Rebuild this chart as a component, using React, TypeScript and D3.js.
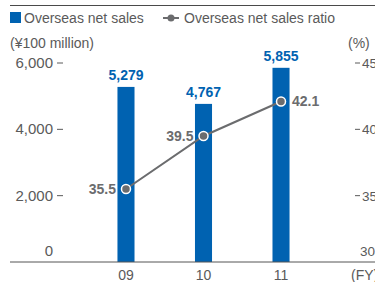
import React from 'react';
import * as d3 from 'd3';

const years = ['09', '10', '11'];
const salesValues = [5279, 4767, 5855];
const ratioValues = [35.5, 39.5, 42.1];
const leftTicks = [0, 2000, 4000, 6000];
const rightTicks = [30, 35, 40, 45];

const BLUE = '#0062b1';
const GRAY = '#6b6c6e';
const TEXT = '#5a5a5a';
const FONT = '"Liberation Sans", Arial, Helvetica, sans-serif';

export default function App() {
  const width = 375,
    height = 282;
  const top = 63,
    bottom = 262;

  const x = d3.scaleBand().domain(years).range([57, 350]).padding(0.78);
  const yL = d3.scaleLinear().domain([0, 6000]).range([bottom, top]);
  const yR = d3.scaleLinear().domain([30, 45]).range([bottom, top]);
  const cx = (d: string) => (x(d) as number) + x.bandwidth() / 2;

  const line = d3
    .line<number>()
    .x((_, i) => cx(years[i]))
    .y(d => yR(d));

  return (
    <svg
      width={width}
      height={height}
      style={{ position: 'absolute', left: 0, top: 0, fontFamily: FONT }}
    >
      <line x1={10} x2={375} y1={5.5} y2={5.5} stroke="#4a4a4a" strokeWidth={1.2} />

      {/* legend */}
      <rect x={10} y={12} width={11} height={11} fill={BLUE} />
      <text x={24} y={23} fontSize={14} fill={TEXT}>
        Overseas net sales
      </text>
      <line x1={163} x2={179} y1={18} y2={18} stroke={GRAY} strokeWidth={2} />
      <circle cx={171} cy={18} r={3.5} fill={GRAY} />
      <text x={184} y={23} fontSize={14} fill={TEXT}>
        Overseas net sales ratio
      </text>

      <text x={10} y={48} fontSize={14} fill={TEXT}>
        (¥100 million)
      </text>
      <text x={348} y={48} fontSize={14} fill={TEXT}>
        (%)
      </text>

      {/* left axis */}
      {leftTicks.map(t => (
        <g key={t}>
          {t > 0 && (
            <line x1={57} x2={63} y1={yL(t)} y2={yL(t)} stroke={TEXT} strokeWidth={1} />
          )}
          <text
            x={53}
            y={t > 0 ? yL(t) + 5 : yL(t) - 6}
            fontSize={15}
            fill={TEXT}
            textAnchor="end"
          >
            {d3.format(',')(t)}
          </text>
        </g>
      ))}

      {/* right axis */}
      {rightTicks.map(t => (
        <g key={t}>
          {t > 30 && (
            <line x1={355} x2={360} y1={yR(t)} y2={yR(t)} stroke={TEXT} strokeWidth={1} />
          )}
          <text
            x={t > 30 ? 362 : 360}
            y={t > 30 ? yR(t) + 5 : yR(t) - 6}
            fontSize={13.5}
            fill={TEXT}
          >
            {t}
          </text>
        </g>
      ))}

      {/* bars */}
      {years.map((yr, i) => (
        <g key={yr}>
          <rect
            x={x(yr)}
            y={yL(salesValues[i])}
            width={x.bandwidth()}
            height={bottom - yL(salesValues[i])}
            fill={BLUE}
          />
          <text
            x={cx(yr)}
            y={yL(salesValues[i]) - 7}
            fontSize={14}
            fontWeight="bold"
            fill={BLUE}
            textAnchor="middle"
          >
            {d3.format(',')(salesValues[i])}
          </text>
          <text x={cx(yr)} y={280} fontSize={14} fill={TEXT} textAnchor="middle">
            {yr}
          </text>
        </g>
      ))}

      <line x1={10} x2={375} y1={bottom} y2={bottom} stroke="#555" strokeWidth={1} />
      <text x={351} y={280} fontSize={14} fill={TEXT}>
        (FY)
      </text>

      {/* ratio line */}
      <path d={line(ratioValues) || ''} fill="none" stroke={GRAY} strokeWidth={2} />
      {ratioValues.map((v, i) => (
        <g key={i}>
          <circle cx={cx(years[i])} cy={yR(v)} r={4.5} fill={GRAY} stroke="#fff" strokeWidth={1.5} />
          <text
            x={i < 2 ? cx(years[i]) - 10 : cx(years[i]) + 11}
            y={yR(v) + 5}
            fontSize={14}
            fontWeight="bold"
            fill={GRAY}
            textAnchor={i < 2 ? 'end' : 'start'}
          >
            {v.toFixed(1)}
          </text>
        </g>
      ))}
    </svg>
  );
}
